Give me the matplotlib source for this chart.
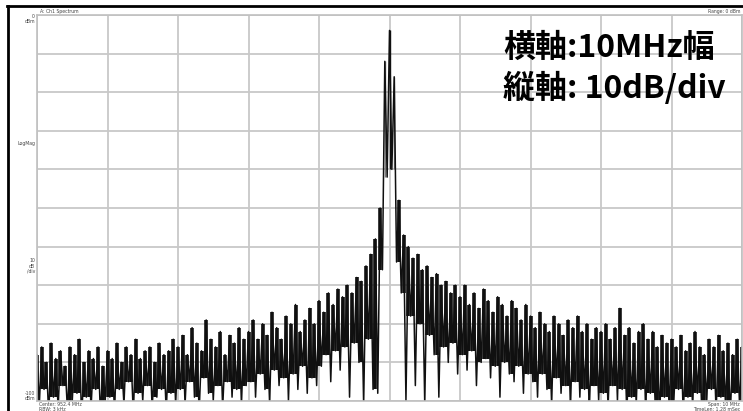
import numpy as np
import matplotlib
matplotlib.use("Agg")
import matplotlib.pyplot as plt
from matplotlib.lines import Line2D

# sweep: 10 MHz span around the carrier, 301 trace points (MHz offset)
span_mhz = 10
freq = np.linspace(-span_mhz / 2, span_mhz / 2, 301)

# local maxima of the trace (even sweep points), dBm
trace_hi = [
    -88, -86, -90, -85, -89, -87, -91, -86, -88, -84, -90, -87, -89, -86, -91,
    -87, -89, -85, -90, -86, -88, -84, -89, -87, -86, -90, -85, -88, -87, -84,
    -86, -83, -88, -81, -85, -87, -79, -84, -86, -82, -88, -83, -85, -81, -84,
    -82, -79, -84, -80, -83, -77, -81, -84, -78, -80, -75, -82, -79, -76, -80,
    -74, -77, -72, -75, -71, -73, -70, -72, -68, -69, -65, -62, -58, -50, -12,
    -4, -16, -48, -57, -60, -63, -62, -66, -65, -68, -67, -70, -69, -72, -70,
    -73, -70, -75, -72, -76, -71, -74, -77, -73, -75, -78, -74, -76, -79, -75,
    -78, -81, -77, -80, -82, -78, -80, -83, -79, -81, -78, -82, -80, -84, -81,
    -82, -80, -84, -81, -76, -83, -81, -85, -82, -80, -84, -82, -86, -83, -85,
    -84, -86, -83, -87, -85, -82, -86, -88, -84, -86, -83, -87, -85, -88, -84, -86,
]
# local minima of the trace (odd sweep points), dBm
trace_lo = [
    -101, -97, -104, -99, -102, -96, -103, -100, -98, -105, -99, -102, -97, -104, -100,
    -99, -103, -97, -101, -95, -104, -98, -100, -96, -102, -99, -97, -103, -98, -101,
    -97, -101, -95, -99, -103, -94, -98, -100, -96, -102, -95, -99, -97, -101, -96,
    -95, -99, -93, -97, -101, -92, -96, -94, -100, -93, -97, -91, -98, -94, -96,
    -91, -88, -95, -87, -92, -86, -99, -85, -90, -101, -84, -97, -98, -66, -42,
    -40, -64, -72, -100, -78, -96, -80, -101, -83, -88, -99, -86, -90, -85, -93,
    -88, -92, -87, -96, -90, -89, -94, -91, -99, -90, -93, -95, -91, -98, -93,
    -95, -99, -93, -97, -101, -94, -98, -96, -102, -95, -99, -97, -103, -96, -100,
    -98, -102, -96, -100, -97, -104, -99, -101, -97, -103, -98, -100, -104, -99, -102,
    -100, -97, -104, -99, -102, -98, -105, -100, -97, -103, -99, -101, -104, -98, -102,
]

level = np.empty(len(freq))
level[0::2] = trace_hi
level[1::2] = trace_lo

# min/max column display: each maximum drawn down to the shallower neighbouring minimum
lo_pad = np.r_[trace_lo[0], trace_lo, trace_lo[-1]]
col_bottom = np.maximum(lo_pad[:-1], lo_pad[1:])

ref_level = 0
db_per_div = 10
bottom_level = -100

hi = np.array(trace_hi)
tall = hi > -45  # carrier columns are drawn as thin lines
col_lw = np.where(tall, 1.0, 2.6)
col_color = np.where(tall & (hi > hi.max() + 1e-9 - 1), "#101010",
                     np.where(tall, "#7a7a7a", "#101010"))

W, H = 743, 411
fig = plt.figure(figsize=(W / 100, H / 100), dpi=100)
ax = fig.add_axes([37 / W, 1 - 401 / H, 705 / W, 386 / H])

ax.vlines(freq[0::2], col_bottom, trace_hi, colors=col_color, lw=col_lw)
ax.plot(freq, level, color="#101010", lw=1.1)

ax.set_xlim(-span_mhz / 2, span_mhz / 2)
ax.set_ylim(bottom_level, ref_level)
ax.set_xticks(np.arange(-5, 6, 1))
ax.set_yticks(np.arange(bottom_level, ref_level + 1, db_per_div))
ax.tick_params(length=0, labelleft=False, labelbottom=False)
ax.grid(True, color="#c8c8c8", lw=1.3)
ax.set_axisbelow(True)
for s in ax.spines.values():
    s.set_color("#c0c0c0")
    s.set_linewidth(1.2)


def px(x, y):
    return x / W, 1 - y / H


# outer black frame of the screenshot
fig.add_artist(Line2D([8 / W, 8 / W], [0, 1 - 6 / H], color="black", lw=2.0))
fig.add_artist(Line2D([7 / W, 1], [1 - 6.5 / H, 1 - 6.5 / H], color="black", lw=2.0))

small = dict(fontsize=3.3, color="#444444")
fig.text(*px(40, 11), "A: Ch1 Spectrum", ha="left", va="center", **small)
fig.text(*px(740, 11), "Range: 0 dBm", ha="right", va="center", **small)
fig.text(*px(35, 19), "0\ndBm", ha="right", va="center", linespacing=1.0, **small)
fig.text(*px(35, 143), "LogMag", ha="right", va="center", **small)
fig.text(*px(35, 266), "10\ndB\n/div", ha="right", va="center", linespacing=1.0, **small)
fig.text(*px(35, 396), "-100\ndBm", ha="right", va="center", linespacing=1.0, **small)
fig.text(*px(39, 404), "Center: 952.4 MHz", ha="left", va="center", **small)
fig.text(*px(39, 409), "RBW: 3 kHz", ha="left", va="center", **small)
fig.text(*px(740, 404), "Span: 10 MHz", ha="right", va="center", **small)
fig.text(*px(740, 409), "TimeLen: 1.28 mSec", ha="right", va="center", **small)

jp = ["Noto Sans CJK JP", "DejaVu Sans"]
fig.text(*px(503, 48), "横軸:10MHz幅", family=jp, fontsize=23, fontweight="bold",
         ha="left", va="center", color="black")
fig.text(*px(503, 88), "縦軸: 10dB/div", family=jp, fontsize=23, fontweight="bold",
         ha="left", va="center", color="black")

fig.savefig("out.png", dpi=100)
